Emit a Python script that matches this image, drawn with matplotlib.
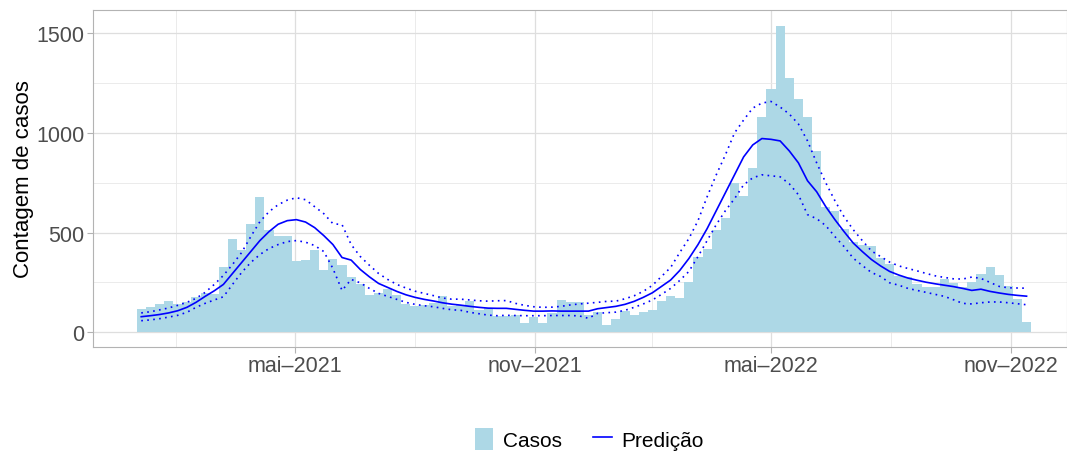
import numpy as np
import pandas as pd
import matplotlib
matplotlib.use("Agg")
import matplotlib.pyplot as plt
from matplotlib.patches import Patch
from matplotlib.lines import Line2D

plt.rcParams['font.family'] = ['Liberation Sans', 'DejaVu Sans']

# semanas epidemiologicas (inicio)
semanas = pd.date_range('2021-01-03', periods=98, freq='7D')

casos = [117, 128, 142, 157, 140, 150, 177, 197, 192, 328,
         468, 413, 543, 679, 513, 483, 483, 358, 363, 413,
         313, 368, 338, 278, 244, 187, 197, 217, 186, 142,
         132, 138, 147, 180, 131, 137, 157, 112, 120, 81,
         84, 87, 48, 76, 48, 95, 162, 153, 151, 88,
         101, 38, 67, 106, 88, 103, 112, 159, 184, 172,
         251, 380, 418, 513, 573, 751, 686, 824, 1080, 1221,
         1538, 1276, 1171, 1080, 910, 629, 609, 518, 454, 438,
         431, 373, 343, 282, 276, 242, 226, 226, 267, 247,
         226, 251, 291, 328, 287, 231, 167, 52]

pred = [78, 83, 89, 97, 108, 125, 150, 180, 208, 240,
        295, 350, 405, 460, 505, 542, 560, 565, 553, 525,
        485, 440, 375, 362, 315, 278, 245, 225, 205, 188,
        175, 165, 157, 148, 141, 136, 130, 125, 121, 120,
        120, 115, 110, 106, 106, 107, 106, 106, 106, 106,
        118, 124, 130, 140, 155, 175, 198, 230, 262, 310,
        370, 440, 520, 610, 700, 790, 880, 940, 972, 968,
        960, 910, 850, 760, 705, 630, 565, 505, 448, 405,
        365, 333, 305, 287, 272, 261, 251, 243, 236, 229,
        220, 210, 216, 205, 197, 190, 185, 181]

pred_sup = [97, 103, 112, 122, 135, 150, 170, 200, 240, 285,
            340, 400, 480, 555, 605, 640, 663, 675, 665, 630,
            595, 545, 540, 440, 380, 336, 295, 265, 240, 222,
            206, 195, 184, 172, 166, 166, 162, 158, 156, 158,
            159, 145, 135, 128, 125, 126, 130, 137, 142, 146,
            150, 155, 156, 168, 183, 205, 235, 280, 325, 400,
            470, 560, 680, 790, 890, 1000, 1065, 1125, 1150, 1158,
            1130, 1095, 1045, 960, 850, 750, 660, 580, 515, 460,
            408, 380, 352, 333, 320, 308, 295, 283, 275, 268,
            267, 277, 270, 250, 230, 223, 222, 221]

pred_inf = [58, 62, 68, 76, 85, 100, 125, 145, 162, 178,
            240, 300, 350, 390, 420, 440, 455, 460, 452, 435,
            405, 320, 210, 265, 248, 220, 195, 180, 165, 150,
            140, 133, 128, 120, 113, 110, 100, 93, 86, 83,
            85, 84, 83, 83, 83, 84, 84, 84, 82, 70,
            95, 98, 101, 110, 125, 142, 162, 190, 220, 260,
            305, 380, 460, 540, 610, 670, 740, 775, 790, 785,
            780, 745, 690, 590, 570, 535, 480, 430, 372, 335,
            300, 280, 248, 236, 220, 210, 200, 190, 180, 163,
            145, 142, 148, 152, 152, 148, 143, 138]

rotulos_x = ['mai\u20132021', 'nov\u20132021', 'mai\u20132022', 'nov\u20132022']
quebras_x = pd.to_datetime(['2021-05-01', '2021-11-01', '2022-05-01', '2022-11-01'])
quebras_menores = pd.to_datetime(['2021-01-30', '2021-08-01', '2022-01-30', '2022-08-01'])

fig = plt.figure(figsize=(10.67, 4.52), dpi=100)
ax = fig.add_axes([93 / 1067, 1 - 348 / 452, 1 - 93 / 1067, (348 - 11) / 452])

ax.bar(semanas, casos, width=7, color='#ADD8E6', linewidth=0, zorder=2)
ax.plot(semanas, pred, color='#0000FF', lw=1.2, zorder=3)
ax.plot(semanas, pred_sup, color='#0000FF', lw=1.2, ls=(0, (1, 2.6)), zorder=3)
ax.plot(semanas, pred_inf, color='#0000FF', lw=1.2, ls=(0, (1, 2.6)), zorder=3)

ax.set_xlim(pd.Timestamp('2020-11-27'), pd.Timestamp('2022-12-14'))
ax.set_ylim(-74, 1617)

ax.set_xticks(quebras_x)
ax.set_xticklabels(rotulos_x)
ax.set_xticks(quebras_menores, minor=True)
ax.set_yticks([0, 500, 1000, 1500])
ax.set_yticks([250, 750, 1250], minor=True)

ax.grid(which='major', color='#DEDEDE', lw=0.9, zorder=0)
ax.grid(which='minor', color='#E8E8E8', lw=0.6, zorder=0)
ax.set_axisbelow(True)

for lado in ['left', 'bottom', 'top', 'right']:
    ax.spines[lado].set_color('#B3B3B3')
    ax.spines[lado].set_linewidth(0.8)

ax.tick_params(which='major', length=4, color='#B3B3B3', width=0.8,
               labelsize=15.5, labelcolor='#4D4D4D', pad=2)
ax.tick_params(which='minor', length=0)
ax.set_ylabel('Contagem de casos', fontsize=16, color='black', labelpad=2)

handles = [Patch(facecolor='#ADD8E6', edgecolor='none', label='Casos'),
           Line2D([0], [0], color='#0000FF', lw=1.2, label='Predi\u00e7\u00e3o')]
fig.legend(handles=handles, loc='center', bbox_to_anchor=(589 / 1067, 1 - 440 / 452),
           ncol=2, frameon=False, fontsize=15, handlelength=0.9, handleheight=1.3,
           columnspacing=1.5, handletextpad=0.45)

fig.savefig('out.png', dpi=100)
